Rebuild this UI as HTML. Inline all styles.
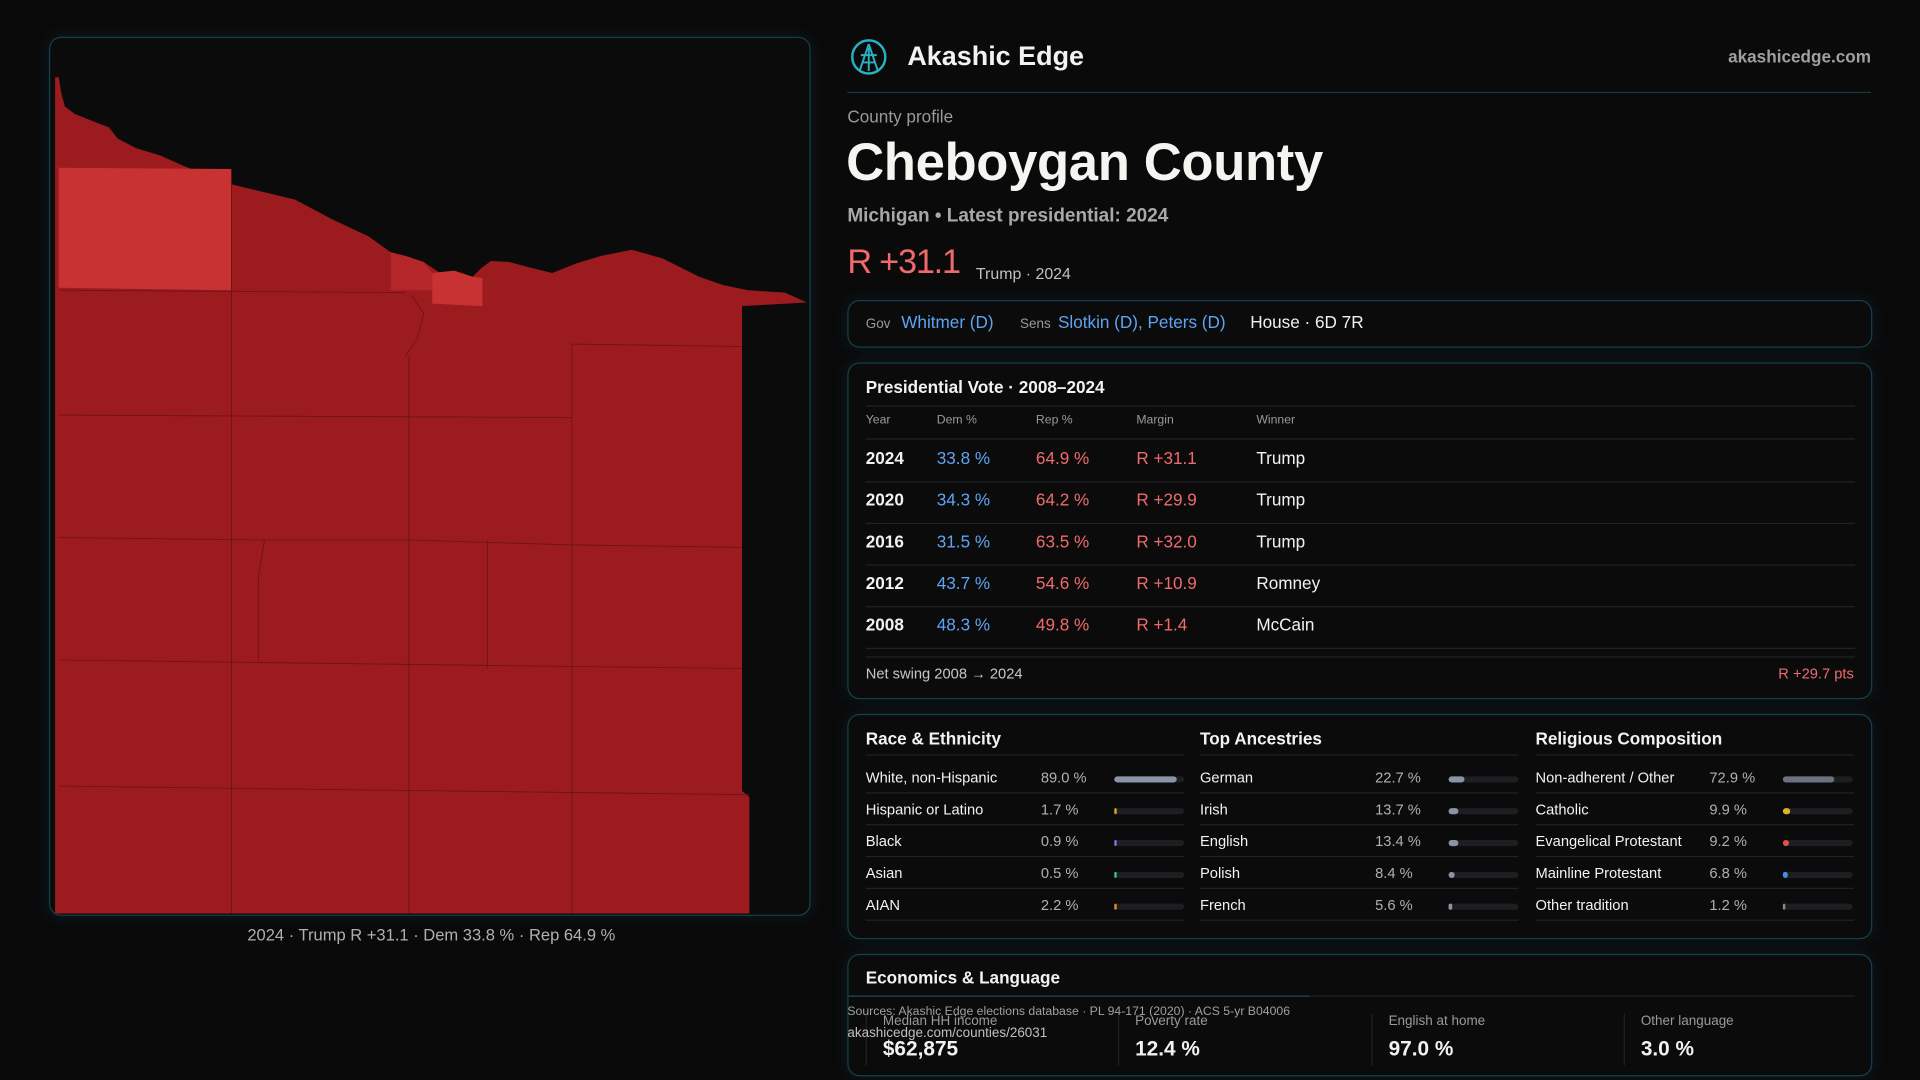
<!DOCTYPE html>
<html><head><meta charset="utf-8">
<style>
html,body{margin:0;padding:0;background:#0a0a0b;overflow:hidden;width:1920px;height:1080px}
#root{position:absolute;left:0;top:0;width:1568px;height:882px;transform:scale(1.22449);transform-origin:0 0;font-family:"Liberation Sans",sans-serif;color:#f2f2f2}
.abs{position:absolute;white-space:nowrap}
.panel{position:absolute;border:1px solid #15404a;border-radius:10px;background:#0b0b0c;box-shadow:0 0 12px rgba(20,80,95,.25)}
.muted{color:#9a9a9a}
.blue{color:#5ea4f2}.red{color:#f06a6c}
.hl{position:absolute;height:1px;background:#1f2326}
</style></head><body>
<div id="root">

<div class="panel" style="left:40px;top:30px;width:620px;height:716px;overflow:hidden">
<svg width="620" height="716" viewBox="40 30 620 716">
<path fill="#9b1b1e" d="M47,62 L49,75 L52,86 L60,92 L75,98 L88,103 L95,112 L110,120 L130,126 L150,135 L190,150 L240,162 L270,178 L300,192 L318,205 L330,208 L345,213 L360,223 L375,226 L385,225 L392,218 L400,212 L415,213 L430,217 L450,222 L470,214 L490,208 L515,203 L540,210 L570,225 L590,232 L610,236 L640,238 L658,246 L605,249 L605,645 L611,650 L611,745 L44,745 L44,62 Z"/>
<path fill="#c83232" d="M47,136 L188,137 L188,236 L47,234 Z"/>
<path fill="#b52628" d="M318,205 L330,208 L345,213 L352,222 L352,236 L318,236 Z"/>
<path fill="#c83232" d="M352,222 L370,220 L385,225 L393,226 L393,249 L352,247 Z"/>
<g stroke="#6e1216" stroke-width="0.7" fill="none">
<path d="M188,137 L188,745"/><path d="M47,236 L330,238"/><path d="M47,338 L466,340"/><path d="M47,438 L215,440 L333,440 L466,444 L605,446"/>
<path d="M47,538 L605,545"/><path d="M47,641 L611,648"/><path d="M330,290 L340,275 L345,255 L335,240"/><path d="M333,290 L333,745"/>
<path d="M466,280 L466,745"/><path d="M466,280 L605,282"/><path d="M397,440 L397,545"/><path d="M215,440 L210,470 L210,540"/>
</g>
</svg>
</div>
<div class="abs muted" style="left:202px;top:756px;font-size:13.5px;color:#b0b0b0">2024 · Trump R +31.1 · Dem 33.8 % · Rep 64.9 %</div>

<svg class="abs" style="left:694px;top:31px" width="31" height="31" viewBox="0 0 31 31">
<circle cx="15.5" cy="15.5" r="13.5" fill="none" stroke="#2bb0c0" stroke-width="2"/>
<path d="M15.5,5 L8,27 M15.5,5 L23,27 M9,14 L22,14 M15.5,8 L15.5,27 M11,20 L20,20" stroke="#2bb0c0" stroke-width="1.6" fill="none"/></svg>
<div class="abs" style="left:741px;top:33px;font-size:22px;font-weight:bold">Akashic Edge</div>
<div class="abs" style="right:40px;top:38px;font-size:14px;font-weight:bold;color:#a0a0a0">akashicedge.com</div>
<div class="hl" style="left:692px;top:75px;width:836px;background:#173a40"></div>

<div class="abs muted" style="left:692px;top:87px;font-size:14px">County profile</div>
<div class="abs" style="left:691px;top:109px;font-size:43px;font-weight:bold;color:#f7f5f2;letter-spacing:-0.3px">Cheboygan County</div>
<div class="abs" style="left:692px;top:168px;font-size:15.5px;font-weight:bold;color:#a8a8a8">Michigan • Latest presidential: 2024</div>
<div class="abs red" style="left:692px;top:198px;font-size:28px;letter-spacing:-1px">R +31.1</div>
<div class="abs" style="left:797px;top:216px;font-size:13px;color:#c0c0c0">Trump · 2024</div>

<div class="panel" style="left:692px;top:245px;width:835px;height:37px">
<span class="abs muted" style="left:14px;top:13px;font-size:11px">Gov</span>
<span class="abs blue" style="left:43px;top:9px;font-size:14px">Whitmer (D)</span>
<span class="abs muted" style="left:140px;top:13px;font-size:11px">Sens</span>
<span class="abs blue" style="left:171px;top:9px;font-size:14px">Slotkin (D), Peters (D)</span>
<span class="abs" style="left:328px;top:9px;font-size:14px">House · 6D 7R</span>
</div>

<div class="panel" style="left:692px;top:296px;width:835px;height:273px">
<div class="abs" style="left:14px;top:11px;font-size:14px;font-weight:bold">Presidential Vote · 2008–2024</div>
<div class="hl" style="left:14px;top:34px;width:808px"></div>
<div id="ptable"></div>
<div class="hl" style="left:14px;top:239px;width:808px"></div>
<div class="abs" style="left:14px;top:246px;font-size:12px;color:#c8c8c8">Net swing 2008 → 2024</div>
<div class="abs red" style="right:14px;top:246px;font-size:12px">R +29.7 pts</div>
</div>

<div class="panel" style="left:692px;top:583px;width:835px;height:182px"><div id="demo"></div></div>

<div class="panel" style="left:692px;top:779px;width:835px;height:98px">
<div class="abs" style="left:14px;top:10px;font-size:14px;font-weight:bold">Economics &amp; Language</div>
<div class="hl" style="left:0;top:33px;width:822px"></div>
<div class="hl" style="left:0;top:33px;width:376px;background:#1a4a55"></div>
<div id="econ"></div>
</div>
<div class="abs" style="left:692px;top:821px;font-size:10px;color:#a0a0a0">Sources: Akashic Edge elections database · PL 94-171 (2020) · ACS 5-yr B04006</div>
<div class="abs" style="left:692px;top:838px;font-size:11px;color:#c0c0c0">akashicedge.com/counties/26031</div>
</div>

<script>
const years=["2024","2020","2016","2012","2008"];
const demPct=[33.8,34.3,31.5,43.7,48.3];
const repPct=[64.9,64.2,63.5,54.6,49.8];
const margins=["R +31.1","R +29.9","R +32.0","R +10.9","R +1.4"];
const winners=["Trump","Trump","Trump","Romney","McCain"];

const raceLabels=["White, non-Hispanic","Hispanic or Latino","Black","Asian","AIAN"];
const raceValues=[89.0,1.7,0.9,0.5,2.2];
const ancLabels=["German","Irish","English","Polish","French"];
const ancValues=[22.7,13.7,13.4,8.4,5.6];
const relLabels=["Non-adherent / Other","Catholic","Evangelical Protestant","Mainline Protestant","Other tradition"];
const relValues=[72.9,9.9,9.2,6.8,1.2];

const econLabels=["Median HH income","Poverty rate","English at home","Other language"];
const econValues=["$62,875","12.4 %","97.0 %","3.0 %"];

function mk(parent,style,text){const d=document.createElement('div');d.className='abs';d.style.cssText=style;if(text!=null)d.textContent=text;parent.appendChild(d);return d;}

const pt=document.getElementById('ptable');
const colX=[14,72,153,235,333];
["Year","Dem %","Rep %","Margin","Winner"].forEach((h,i)=>{const e=mk(pt,`left:${colX[i]}px;top:41px;font-size:10px;color:#9a9a9a`,h);

});
mk(pt,'left:14px;top:61px;width:808px;height:1px;background:#1f2326');
years.forEach((y,i)=>{
 const top=69+i*34;
 const r=mk(pt,`left:0;top:${top}px;width:835px;height:20px`);
 
 
 const c=[[y,'#f2f2f2','bold'],[demPct[i].toFixed(1)+' %','#5ea4f2','normal'],[repPct[i].toFixed(1)+' %','#f06a6c','normal'],[margins[i],'#f06a6c','normal'],[winners[i],'#f2f2f2','normal']];
 c.forEach((v,j)=>{const e=mk(r,`left:${colX[j]}px;top:0;font-size:14px;color:${v[1]};font-weight:${v[2]}`,v[0]);
 
 });
 mk(pt,`left:14px;top:${top+27}px;width:808px;height:1px;background:#1f2326`);
});

const demo=document.getElementById('demo');
const groups=[["Race & Ethnicity",raceLabels,raceValues,["#8a94a6","#e0a020","#8a6ae0","#30c090","#e08a30"],14,157,217],
["Top Ancestries",ancLabels,ancValues,["#8a94a6","#8a94a6","#8a94a6","#8a94a6","#8a94a6"],287,430,490],
["Religious Composition",relLabels,relValues,["#6c7280","#e0b030","#e05050","#4a8ae0","#888"],561,703,763]];
groups.forEach(g=>{
 const t=mk(demo,`left:${g[4]}px;top:11px;font-size:14px;font-weight:bold`,g[0]);
 
 
 mk(demo,`left:${g[4]}px;top:32px;width:260px;height:1px;background:#1f2326`);
 g[1].forEach((lab,i)=>{
  const top=44+i*26;
  const l=mk(demo,`left:${g[4]}px;top:${top}px;font-size:12px;color:#f2f2f2`,lab);
  
  
  const v=mk(demo,`left:${g[5]}px;top:${top}px;font-size:12px;color:#b0b0b0`,g[2][i].toFixed(1)+' %');
  
  
  const track=mk(demo,`left:${g[6]}px;top:${top+6}px;width:57px;height:5px;border-radius:3px;background:#1c1e21`);
  
  
  const w=Math.max(1.5,57*g[2][i]/100);
  const b=mk(track,`left:0;top:0;width:${w}px;height:5px;border-radius:3px;background:${g[3][i]}`);
  
  
  mk(demo,`left:${g[4]}px;top:${top+19}px;width:260px;height:1px;background:#1f2326`);
 });
});

const econ=document.getElementById('econ');
const ex=[28,234,441,647];
econLabels.forEach((lab,i)=>{
 if(i>0)mk(econ,`left:${ex[i]-14}px;top:48px;width:1px;height:42px;background:#1f2326`);
 const l=mk(econ,`left:${ex[i]}px;top:48px;font-size:11px;color:#9a9a9a`,lab);
 
 
 const v=mk(econ,`left:${ex[i]}px;top:67px;font-size:17px;font-weight:bold`,econValues[i]);
 
 
});
mk(econ,'left:14px;top:48px;width:1px;height:42px;background:#1f2326');
</script>
</body></html>
